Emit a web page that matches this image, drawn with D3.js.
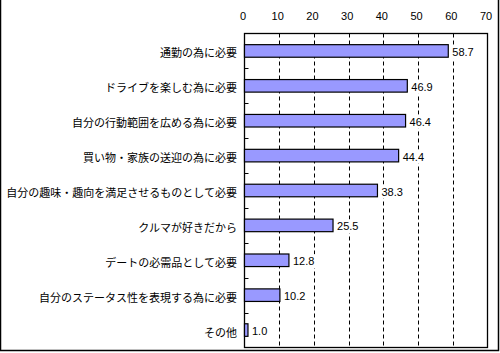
<!DOCTYPE html>
<html>
<head>
<meta charset="utf-8">
<script src="https://cdn.jsdelivr.net/npm/d3@7"></script>
<style>
  body { margin: 0; background: #fff; }
  svg { display: block; }
</style>
</head>
<body>
<div id="chart"></div>
<script>
(function () {

  // Data
  const categories = ["通勤の為に必要", "ドライブを楽しむ為に必要", "自分の行動範囲を広める為に必要",
    "買い物・家族の送迎の為に必要", "自分の趣味・趣向を満足させるものとして必要", "クルマが好きだから",
    "デートの必需品として必要", "自分のステータス性を表現する為に必要", "その他"]
  const values = [58.7, 46.9, 46.4, 44.4, 38.3, 25.5, 12.8, 10.2, 1.0]
  const xTicks = [0, 10, 20, 30, 40, 50, 60, 70]

  const W = 500, H = 353
  const plot = { left: 244.5, right: 487.5, top: 33.5, bottom: 347.5 }

  const svg = d3.select("#chart").append("svg")
      .attr("width", W)
      .attr("height", H)

  // outer frame (no top line in the picture)
  svg.append("path")
    .attr("d", `M0.5,0 V350.5 H498.5 V0`)
    .attr("fill", "none")
    .attr("stroke", "#000")
    .attr("stroke-width", 1.5)

  const x = d3.scaleLinear()
    .domain([0, 70])
    .range([plot.left, plot.right])

  const y = d3.scaleBand()
    .domain(categories)
    .range([plot.top, plot.bottom])
    .paddingInner(0.64)
    .paddingOuter(0.32)

  // dashed gridlines
  svg.append("g")
    .selectAll("line")
    .data(xTicks.filter(d => d > 0 && d < 70))
    .join("line")
    .attr("x1", d => Math.round(x(d)) + 0.5)
    .attr("x2", d => Math.round(x(d)) + 0.5)
    .attr("y1", plot.top)
    .attr("y2", plot.bottom)
    .attr("stroke", "#000")
    .attr("stroke-dasharray", "4,3")

  // plot box
  svg.append("rect")
    .attr("x", plot.left)
    .attr("y", plot.top)
    .attr("width", plot.right - plot.left)
    .attr("height", plot.bottom - plot.top)
    .attr("fill", "none")
    .attr("stroke", "#000")
    .attr("stroke-width", 1.3)

  // category boundary ticks
  const step = y.step()
  svg.append("g")
    .selectAll("line")
    .data(categories.slice(1))
    .join("line")
    .attr("x1", plot.left)
    .attr("x2", plot.left + 4)
    .attr("y1", d => Math.round(y(d) - step * y.paddingInner() / 2) + 0.5)
    .attr("y2", d => Math.round(y(d) - step * y.paddingInner() / 2) + 0.5)
    .attr("stroke", "#000")

  // top axis labels
  svg.append("g")
    .selectAll("text")
    .data(xTicks)
    .join("text")
    .attr("x", d => x(d) - 1.5)
    .attr("y", 20)
    .attr("text-anchor", "middle")
    .style("font-family", "'Liberation Sans', Arial, sans-serif")
    .style("font-size", "11px")
    .text(d => d)

  // bars
  svg.append("g")
    .selectAll("rect")
    .data(values)
    .join("rect")
    .attr("x", x(0))
    .attr("y", (d, i) => y(categories[i]))
    .attr("width", d => x(d) - x(0))
    .attr("height", y.bandwidth())
    .attr("fill", "#9999ff")
    .attr("stroke", "#000")
    .attr("stroke-width", 1.2)

  // value labels, on a white box so the gridlines stop behind them
  const lab = svg.append("g")
    .selectAll("g")
    .data(values)
    .join("g")
  const labText = lab.append("text")
    .attr("x", d => x(d) + 4)
    .attr("y", (d, i) => y(categories[i]) + y.bandwidth() / 2 + 1)
    .attr("dominant-baseline", "central")
    .style("font-family", "'Liberation Sans', Arial, sans-serif")
    .style("font-size", "11px")
    .text(d => d.toFixed(1))
  lab.each(function () {
    const g = d3.select(this)
    const b = g.select("text").node().getBBox()
    g.insert("rect", "text")
      .attr("x", b.x - 1)
      .attr("y", b.y - 1)
      .attr("width", b.width + 2)
      .attr("height", b.height + 2)
      .attr("fill", "#fff")
  })

  // category labels
  svg.append("g")
    .selectAll("text")
    .data(categories)
    .join("text")
    .attr("x", 237)
    .attr("y", d => y(d) + y.bandwidth() / 2 + 1.5)
    .attr("text-anchor", "end")
    .attr("dominant-baseline", "central")
    .style("font-family", "'Noto Sans CJK JP', sans-serif")
    .style("font-size", "11px")
    .text(d => d)

})();
</script>
</body>
</html>
